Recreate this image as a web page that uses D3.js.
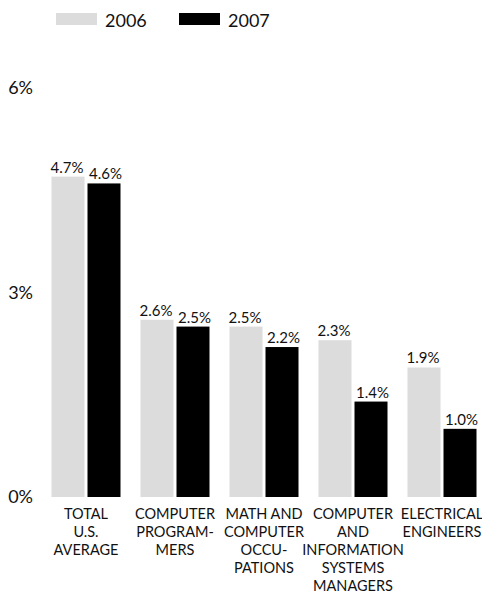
<!DOCTYPE html>
<html><head><meta charset="utf-8">
<script src="https://cdn.jsdelivr.net/npm/d3@7"></script>
<style>
html,body{margin:0;padding:0;background:#fff;}
svg{display:block;font-family:Lato,"Noto Sans",sans-serif;}
</style></head>
<body>
<script>
const categories = [
  ["TOTAL","U.S.","AVERAGE"],
  ["COMPUTER","PROGRAM-","MERS"],
  ["MATH AND","COMPUTER","OCCU-","PATIONS"],
  ["COMPUTER","AND","INFORMATION","SYSTEMS","MANAGERS"],
  ["ELECTRICAL","ENGINEERS"]
];
const seriesNames = ["2006","2007"];
const values2006 = [4.7, 2.6, 2.5, 2.3, 1.9];
const values2007 = [4.6, 2.5, 2.2, 1.4, 1.0];
const yTicks = [0, 3, 6];
const colors = ["#dcdcdc", "#000000"];

const W = 482, H = 593;
const svg = d3.select("body").append("svg").attr("width", W).attr("height", H);

const x0 = d3.scaleBand().domain(d3.range(categories.length))
  .range([41.5, 486.5]).paddingInner(20/89).paddingOuter(10/89);
const x1 = d3.scaleBand().domain(seriesNames).range([0, x0.bandwidth()])
  .paddingInner(3/36).paddingOuter(0);
const y = d3.scaleLinear().domain([0, 6]).range([497, 88]);

const data = categories.map((c, i) => ({i, vals: [values2006[i], values2007[i]]}));

// y tick labels
svg.append("g").selectAll("text").data(yTicks).join("text")
  .attr("x", 33).attr("y", d => y(d)).attr("dy", "0.35em")
  .attr("text-anchor", "end").attr("font-size", 18).attr("fill", "#111")
  .text(d => d + "%");

const g = svg.append("g").selectAll("g").data(data).join("g")
  .attr("transform", d => `translate(${x0(d.i)},0)`);

g.selectAll("rect").data(d => d.vals.map((v, k) => ({k, v}))).join("rect")
  .attr("x", d => x1(seriesNames[d.k])).attr("width", x1.bandwidth())
  .attr("y", d => y(d.v)).attr("height", d => y(0) - y(d.v))
  .attr("fill", d => colors[d.k]);

g.selectAll("text.val").data(d => d.vals.map((v, k) => ({k, v}))).join("text")
  .attr("class", "val")
  .attr("x", d => x1(seriesNames[d.k]) + x1.bandwidth() / 2 + (d.k ? 1.5 : -1))
  .attr("y", d => y(d.v) - 4)
  .attr("text-anchor", "middle").attr("font-size", 15).attr("fill", "#111")
  .text(d => d.v.toFixed(1) + "%");

// category labels
g.append("text")
  .attr("text-anchor", "middle").attr("font-size", 14.5).attr("fill", "#111")
  .selectAll("tspan").data(d => categories[d.i]).join("tspan")
  .attr("x", x0.bandwidth() / 2)
  .attr("y", (d, j) => 518.5 + j * 18)
  .text(d => d);

// legend
const leg = svg.append("g");
const legX = [56, 179];
seriesNames.forEach((s, k) => {
  leg.append("rect").attr("x", legX[k]).attr("y", 13).attr("width", 41).attr("height", 12).attr("fill", colors[k]);
  leg.append("text").attr("x", legX[k] + 49).attr("y", 26.5).attr("font-size", 18).attr("fill", "#111").text(s);
});
</script>
</body></html>
